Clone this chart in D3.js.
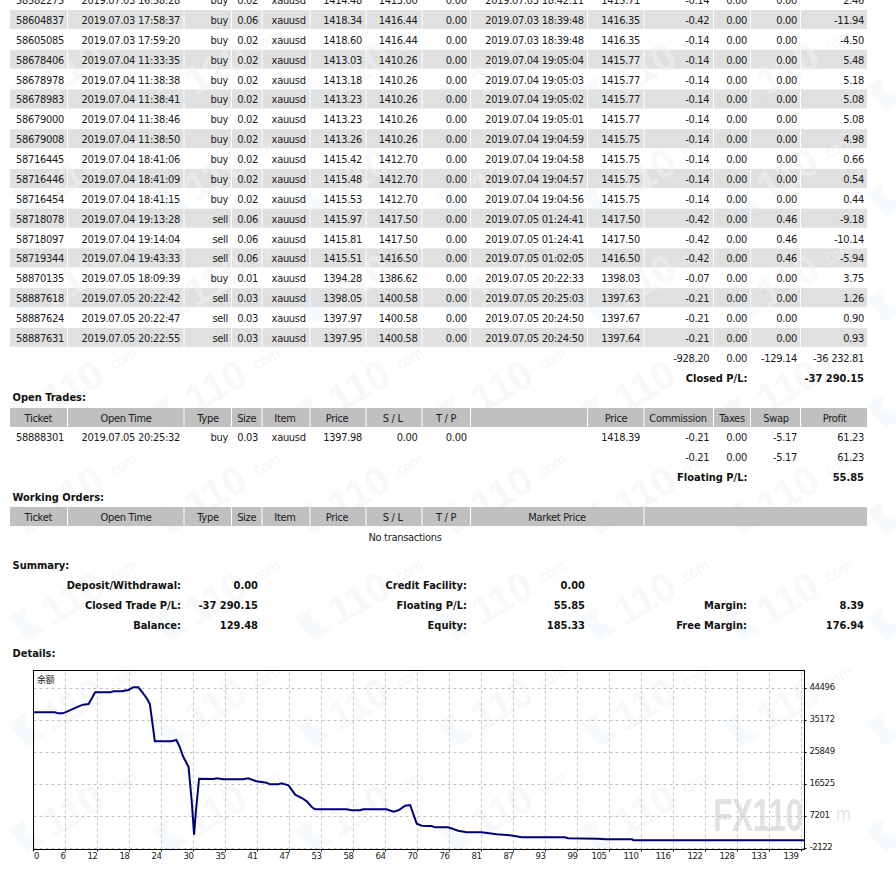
<!DOCTYPE html>
<html>
<head>
<meta charset="utf-8">
<style>
	html, body { margin: 0; padding: 0; background: #fff; }
	svg { display: block; }
	text { font-family: "DejaVu Sans Condensed", "DejaVu Sans", sans-serif; font-size: 11px; fill: #1a1a1a; letter-spacing: -0.3px; }
	.bold { font-weight: bold; fill: #111; letter-spacing: 0; }
	.grid line { stroke: #c4c4c4; stroke-dasharray: 3 3; }
	.grid text { font-size: 9.5px; letter-spacing: -0.4px; }
</style>
</head>
<body>
<div id="chart"></div>
<script src="https://cdnjs.cloudflare.com/ajax/libs/d3/7.8.5/d3.min.js"></script>
<script>
// closed trades, one array per column
var tickets = [58582275, 58604837, 58605085, 58678406, 58678978, 58678983, 58679000, 58679008, 58716445, 58716446, 58716454, 58718078, 58718097, 58719344, 58870135, 58887618, 58887624, 58887631];
var openTimes = ['2019.07.03 16:58:28', '2019.07.03 17:58:37', '2019.07.03 17:59:20', '2019.07.04 11:33:35', '2019.07.04 11:38:38', '2019.07.04 11:38:41', '2019.07.04 11:38:46', '2019.07.04 11:38:50', '2019.07.04 18:41:06', '2019.07.04 18:41:09', '2019.07.04 18:41:15', '2019.07.04 19:13:28', '2019.07.04 19:14:04', '2019.07.04 19:43:33', '2019.07.05 18:09:39', '2019.07.05 20:22:42', '2019.07.05 20:22:47', '2019.07.05 20:22:55'];
var types = ['buy', 'buy', 'buy', 'buy', 'buy', 'buy', 'buy', 'buy', 'buy', 'buy', 'buy', 'sell', 'sell', 'sell', 'buy', 'sell', 'sell', 'sell'];
var sizes = [0.02, 0.06, 0.02, 0.02, 0.02, 0.02, 0.02, 0.02, 0.02, 0.02, 0.02, 0.06, 0.06, 0.06, 0.01, 0.03, 0.03, 0.03];
var openPrices = [1414.48, 1418.34, 1418.60, 1413.03, 1413.18, 1413.23, 1413.23, 1413.26, 1415.42, 1415.48, 1415.53, 1415.97, 1415.81, 1415.51, 1394.28, 1398.05, 1397.97, 1397.95];
var stopLosses = [1413.00, 1416.44, 1416.44, 1410.26, 1410.26, 1410.26, 1410.26, 1410.26, 1412.70, 1412.70, 1412.70, 1417.50, 1417.50, 1416.50, 1386.62, 1400.58, 1400.58, 1400.58];
var closeTimes = ['2019.07.03 18:42:11', '2019.07.03 18:39:48', '2019.07.03 18:39:48', '2019.07.04 19:05:04', '2019.07.04 19:05:03', '2019.07.04 19:05:02', '2019.07.04 19:05:01', '2019.07.04 19:04:59', '2019.07.04 19:04:58', '2019.07.04 19:04:57', '2019.07.04 19:04:56', '2019.07.05 01:24:41', '2019.07.05 01:24:41', '2019.07.05 01:02:05', '2019.07.05 20:22:33', '2019.07.05 20:25:03', '2019.07.05 20:24:50', '2019.07.05 20:24:50'];
var closePrices = [1415.71, 1416.35, 1416.35, 1415.77, 1415.77, 1415.77, 1415.77, 1415.75, 1415.75, 1415.75, 1415.75, 1417.50, 1417.50, 1416.50, 1398.03, 1397.63, 1397.67, 1397.64];
var commissions = [-0.14, -0.42, -0.14, -0.14, -0.14, -0.14, -0.14, -0.14, -0.14, -0.14, -0.14, -0.42, -0.42, -0.42, -0.07, -0.21, -0.21, -0.21];
var swaps = [0, 0, 0, 0, 0, 0, 0, 0, 0, 0, 0, 0.46, 0.46, 0.46, 0, 0, 0, 0];
var profits = [2.46, -11.94, -4.50, 5.48, 5.18, 5.08, 5.08, 4.98, 0.66, 0.54, 0.44, -9.18, -10.14, -5.94, 3.75, 1.26, 0.90, 0.93];

var tradeHeaders = ['Ticket', 'Open Time', 'Type', 'Size', 'Item', 'Price', 'S / L', 'T / P', '', 'Price', 'Commission', 'Taxes', 'Swap', 'Profit'];
var orderHeaders = ['Ticket', 'Open Time', 'Type', 'Size', 'Item', 'Price', 'S / L', 'T / P', 'Market Price', ''];
var openTrade = ['58888301', '2019.07.05 20:25:32', 'buy', '0.03', 'xauusd', '1397.98', '0.00', '0.00', '', '1418.39', '-0.21', '0.00', '-5.17', '61.23'];
var closedTotals = ['-928.20', '0.00', '-129.14', '-36 232.81'];
var openTotals = ['-0.21', '0.00', '-5.17', '61.23'];

var summaryLabels = [['Deposit/Withdrawal:', 'Credit Facility:', ''], ['Closed Trade P/L:', 'Floating P/L:', 'Margin:'], ['Balance:', 'Equity:', 'Free Margin:']];
var summaryValues = [['0.00', '0.00', ''], ['-37 290.15', '55.85', '8.39'], ['129.48', '185.33', '176.94']];

// balance curve
var curveIndex = [0, 3.9, 4.5, 5.4, 6.6, 8.1, 9, 10, 11.2, 13.9, 14.5, 16, 17.2, 18.1, 19, 19.6, 20.5, 21.1, 22, 25, 25.9, 26.5, 27.1, 28.1, 28.7, 29.1, 29.4, 30, 32.6, 33.2, 34.4, 38, 38.9, 40.4, 42.2, 42.8, 44.3, 44.9, 46.2, 47.4, 48.6, 49.5, 50.4, 51, 56.7, 57.6, 59.1, 59.7, 63.9, 65.2, 66.1, 67.3, 68.2, 69.4, 70.3, 72.1, 72.7, 75.1, 76.9, 78.4, 81.1, 83.9, 86.3, 88.4, 96.2, 96.8, 102.2, 103.6, 108.4, 108.6, 139.5];
var curveBalance = [37406, 37406, 37115, 37115, 37989, 39057, 39640, 39834, 43233, 43233, 43525, 43525, 43913, 44690, 44690, 43525, 41582, 39834, 28957, 28957, 29345, 27306, 24586, 21479, 10990, 1763, 8076, 18079, 17982, 18176, 17885, 17885, 18176, 17302, 16914, 16428, 16428, 16720, 16136, 13418, 12446, 11475, 9824, 9144, 9144, 8853, 8853, 9144, 9144, 8464, 8853, 10212, 10407, 4968, 4385, 4288, 3900, 3900, 2929, 2443, 2443, 1860, 1569, 986, 986, 695, 598, 404, 404, 112, 112];
var xLabels = [0, 6, 12, 18, 24, 30, 35, 41, 47, 53, 58, 64, 70, 76, 81, 87, 93, 99, 105, 110, 116, 122, 128, 133, 139];
var yLabels = [-2122, 7201, 16525, 25849, 35172, 44496];

var width = 896, height = 869;
var f2 = function (v) { return v.toFixed(2); };

// layout of the table columns
var tradeEdges = [10, 68, 184.5, 232, 262.5, 310.5, 366.5, 422.5, 471, 588, 644.5, 714, 751, 801, 867];
var orderEdges = [10, 68, 184.5, 232, 262.5, 310.5, 366.5, 422.5, 471, 644.5, 867];
var valueRight = [64, 180, 228, 258, 305.7, 362, 417.5, 466.7, 583.7, 640, 709.3, 747, 797, 864];
var tradeCentres = [38.3, 126, 208, 246.7, 285, 337, 392.7, 446, 529, 616, 678, 732, 776, 834.7];
var orderCentres = [38.3, 126, 208, 246.7, 285, 337, 392.7, 446, 557, 755];

var svg = d3.select('#chart').append('svg')
	.attr('width', width)
	.attr('height', height);

// paint order: bands, watermark, then texts and the chart
var bands = svg.append('g').attr('class', 'bands');
var marks = svg.append('g').attr('class', 'watermark');
var table = svg.append('g').attr('class', 'table');

function cell(g, x, y, anchor, value, isBold) {
	return g.append('text')
		.attr('x', x)
		.attr('y', y)
		.attr('dy', '.36em')
		.attr('text-anchor', anchor)
		.attr('class', isBold ? 'bold' : null)
		.text(value);
}

// rows
var rowY = d3.scaleLinear().domain([0, 1]).range([0.1, 19.97]);

tickets.forEach(function (ticket, i) {
	var y = rowY(i);
	if (i % 2 === 1) {
		d3.range(tradeEdges.length - 1).forEach(function (c) {
			bands.append('rect')
				.attr('x', tradeEdges[c])
				.attr('y', y - 10)
				.attr('width', tradeEdges[c + 1] - tradeEdges[c] - (c < 13 ? 1 : 0))
				.attr('height', 19)
				.attr('fill', '#e0e0e0');
		});
	}
	var row = [ticket, openTimes[i], types[i], f2(sizes[i]), 'xauusd', f2(openPrices[i]), f2(stopLosses[i]), '0.00', closeTimes[i], f2(closePrices[i]), f2(commissions[i]), '0.00', f2(swaps[i]), f2(profits[i])];
	row.forEach(function (value, c) {
		cell(table, valueRight[c], y, 'end', value);
	});
});

// header rows
function header(yTop, edges, labels, centres) {
	labels.forEach(function (label, c) {
		table.append('rect')
			.attr('x', edges[c])
			.attr('y', yTop)
			.attr('width', edges[c + 1] - edges[c] - (c < labels.length - 1 ? 1 : 0))
			.attr('height', 19)
			.attr('fill', '#c0c0c0');
		cell(table, centres[c], yTop + 9.6, 'middle', label);
	});
}

closedTotals.forEach(function (value, i) {
	cell(table, valueRight[10 + i], 358, 'end', value);
});
cell(table, 747.5, 378, 'end', 'Closed P/L:', true);
cell(table, 864, 378, 'end', '-37 290.15', true);

cell(table, 12.5, 397, 'start', 'Open Trades:', true);
header(408, tradeEdges, tradeHeaders, tradeCentres);
openTrade.forEach(function (value, c) {
	cell(table, valueRight[c], 437, 'end', value);
});
openTotals.forEach(function (value, i) {
	cell(table, valueRight[10 + i], 457, 'end', value);
});
cell(table, 747.5, 477, 'end', 'Floating P/L:', true);
cell(table, 864, 477, 'end', '55.85', true);

cell(table, 12.5, 497, 'start', 'Working Orders:', true);
header(507, orderEdges, orderHeaders, orderCentres);
cell(table, 405, 537, 'middle', 'No transactions');

// summary
cell(table, 12.5, 565, 'start', 'Summary:', true);
var labelRight = [181, 467, 747], numberRight = [258, 585, 864];
summaryLabels.forEach(function (labels, r) {
	labels.forEach(function (label, c) {
		cell(table, labelRight[c], 585 + r * 20, 'end', label, true);
		cell(table, numberRight[c], 585 + r * 20, 'end', summaryValues[r][c], true);
	});
});
cell(table, 12.5, 653, 'start', 'Details:', true);

// site watermark, faint tiles under the texts
var markRows = [50, 156, 262, 368, 474, 580, 686, 792];
markRows.forEach(function (rowTop) {
	d3.range(7).forEach(function (k) {
		// the last tile of the bottom row is the big grey logo drawn in the chart
		if (rowTop === 792 && k === 5) return;
		var g = marks.append('g')
			.attr('transform', 'translate(' + (108 + 143 * k) + ',' + rowTop + ') rotate(-30)');
		g.append('path')
			.attr('d', 'M-105,-18 L-85,-18 L-92,-6 L-78,12 L-100,12 Z')
			.attr('fill', '#d5e6f3')
			.attr('opacity', 0.22);
		// only the logo corner of the seventh column is still on the page
		if (k === 6) return;
		g.append('text')
			.attr('x', -8)
			.attr('y', 12)
			.attr('text-anchor', 'end')
			.style('font-family', 'Liberation Sans')
			.style('font-weight', 'bold')
			.style('font-size', '40px')
			.style('fill', '#f2f2f2')
			.style('opacity', 0.5)
			.text('110');
		g.append('text')
			.attr('x', 0)
			.attr('y', 5)
			.style('font-size', '15px')
			.style('fill', '#f2f2f2')
			.style('opacity', 0.7)
			.text('.com');
	});
});

// balance chart
var x = d3.scaleLinear().domain([0, 139]).range([33.3, 801.3]);
var xGrid = d3.scalePoint().domain(xLabels).range([33, 801]);
var y = d3.scaleLinear().domain([-2122, 44496]).range([848, 688]);

var plot = svg.append('g').attr('class', 'plot');

plot.append('text')
	.attr('x', 713)
	.attr('y', 831)
	.attr('textLength', 90)
	.attr('lengthAdjust', 'spacingAndGlyphs')
	.style('font-size', '46px')
	.style('font-weight', 'bold')
	.style('font-family', 'Liberation Sans')
	.style('fill', '#e2e2e2')
	.text('FX110');
plot.append('text')
	.attr('x', 836)
	.attr('y', 820)
	.style('font-size', '17px')
	.style('fill', '#e6e6e6')
	.text('m');

var xAxis = d3.axisBottom(xGrid).tickSize(-179).tickPadding(2);
var xg = plot.append('g')
	.attr('class', 'grid')
	.attr('transform', 'translate(0,849.5)')
	.call(xAxis);
xg.select('.domain').remove();
xg.selectAll('.tick text')
	.attr('text-anchor', 'end')
	.attr('x', function (d, i) { return i === 0 ? 5.5 : (d >= 100 ? -3 : 0); })
	.attr('y', 3);

var yAxis = d3.axisRight(y).tickValues(yLabels).tickSize(-771).tickPadding(5).tickFormat(String);
var yg = plot.append('g')
	.attr('class', 'grid')
	.attr('transform', 'translate(804.5,0)')
	.call(yAxis);
yg.select('.domain').remove();
yg.selectAll('.tick text')
	.attr('dy', '.2em');

// little outside tick marks
xg.selectAll('.tick').append('line').attr('y2', 2).style('stroke', '#000').style('stroke-dasharray', 'none');
yg.selectAll('.tick').append('line').attr('x2', 2).style('stroke', '#000').style('stroke-dasharray', 'none');

plot.append('rect')
	.attr('x', 33.5)
	.attr('y', 670.5)
	.attr('width', 771)
	.attr('height', 179)
	.attr('fill', 'none')
	.attr('stroke', '#000');

var line = d3.line()
	.x(function (d) { return x(d); })
	.y(function (d, i) { return y(curveBalance[i]); });

plot.append('path')
	.datum(curveIndex)
	.attr('fill', 'none')
	.attr('stroke', '#00007a')
	.attr('stroke-width', 2)
	.attr('d', line);

plot.append('text')
	.attr('x', 37)
	.attr('y', 683)
	.style('font-family', '"Noto Sans CJK SC"')
	.style('font-size', '9px')
	.text('余额');
</script>
</body>
</html>
